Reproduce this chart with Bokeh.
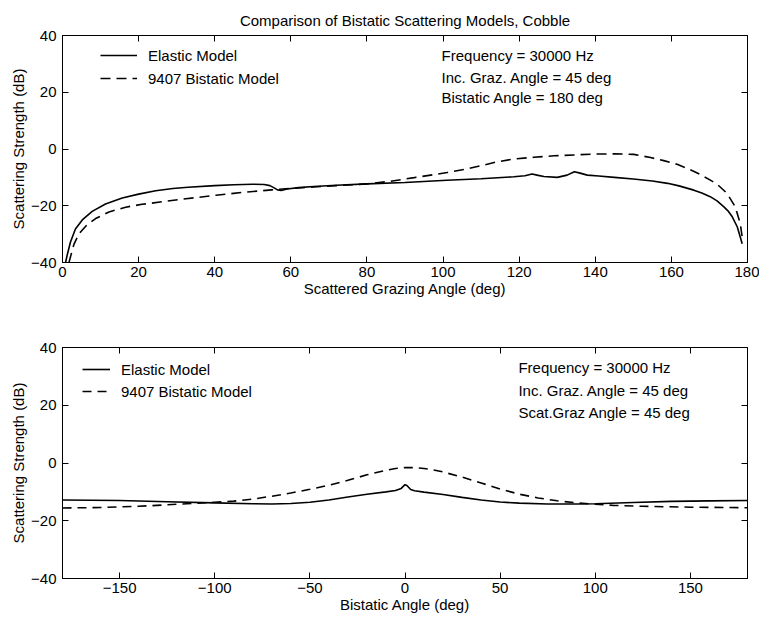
from bokeh.plotting import figure
from bokeh.models import LinearAxis, Range1d, Legend, LegendItem, Label, FixedTicker
from bokeh.layouts import column
from bokeh.embed import file_html
from bokeh.resources import INLINE

FONT = "Liberation Sans"

# ---------------- data ----------------
title_text = "Comparison of Bistatic Scattering Models, Cobble"
series_names = ["Elastic Model", "9407 Bistatic Model"]

y_ticks = [-40, -20, 0, 20, 40]
y_tick_labels = ["\u221240", "\u221220", "0", "20", "40"]
top_x_ticks = [0, 20, 40, 60, 80, 100, 120, 140, 160, 180]
bot_x_ticks = [-150, -100, -50, 0, 50, 100, 150]
bot_x_tick_labels = ["\u2212150", "\u2212100", "\u221250", "0", "50", "100", "150"]

top_elastic_x = [0.8, 1.3, 2.1, 3.4, 5.2, 7.8, 11.3, 15.7, 20, 24.5,
                 29, 33, 40, 45, 50, 53, 54.5, 55.5, 56.5, 57.5,
                 59, 62, 66, 72, 80, 90, 101, 110, 118.6, 121.5,
                 123.4, 125, 126.5, 130, 132.6, 134.5, 136, 137.9, 140.9, 145,
                 150, 155, 159, 162, 165.9, 168, 170.2, 172, 173.8, 175,
                 176, 177.3, 178.1, 178.6]
top_elastic_y = [-40, -37, -32.8, -28.2, -25.0, -22.0, -19.4, -17.3, -15.9, -14.7,
                 -13.9, -13.5, -12.9, -12.6, -12.4, -12.5, -12.9, -13.6, -14.4, -14.6,
                 -14.1, -13.6, -13.2, -12.8, -12.3, -11.8, -11.0, -10.5, -9.8, -9.4,
                 -8.8, -9.3, -9.7, -10.0, -9.2, -8.0, -8.5, -9.2, -9.5, -10.0,
                 -10.6, -11.3, -12.1, -13.0, -14.5, -15.5, -16.8, -18.3, -20.4, -22.0,
                 -23.9, -27.4, -31.0, -33.4]

top_bistatic_x = [1.7, 2.2, 3.0, 4.3, 6.1, 8.7, 12.2, 16.6, 20.9, 26.2,
                  31.5, 40.3, 48, 55, 60, 66, 72, 80, 86, 92.4,
                  101.1, 106, 109.9, 114.3, 118.6, 123.9, 129.2, 134.4, 139.6, 145,
                  150.1, 154.5, 158, 161.5, 164.5, 167.6, 170, 172, 174.6, 176.8,
                  178.1, 178.7]
top_bistatic_y = [-40, -37.5, -33.6, -29.9, -27.2, -24.5, -22.2, -20.5, -19.5, -18.6,
                  -17.7, -16.3, -15.2, -14.4, -13.9, -13.4, -12.9, -12.3, -11.4, -10.1,
                  -8.3, -7.1, -5.9, -4.5, -3.5, -2.9, -2.4, -2.1, -1.8, -1.7,
                  -1.9, -3.0, -4.1, -5.4, -7.0, -9.0, -10.8, -12.4, -15.6, -20.4,
                  -26.3, -32.0]

bot_elastic_x = [-180, -150, -125, -100, -80, -70, -60, -50, -40, -30,
                 -20, -10, -5, -2, 0, 1, 3, 5, 10, 20,
                 30, 40, 50, 60, 75, 90, 100, 120, 140, 160, 180]
bot_elastic_y = [-12.8, -13.0, -13.4, -13.8, -14.1, -14.2, -14.0, -13.6, -12.8, -11.8,
                 -10.8, -10.0, -9.5, -8.8, -7.5, -7.8, -9.2, -9.6, -10.1, -10.9,
                 -11.9, -12.8, -13.5, -13.9, -14.2, -14.2, -14.1, -13.7, -13.3, -13.1, -13.0]

bot_bistatic_x = [-180, -160, -140, -120, -100, -90, -80, -70, -60, -50,
                  -40, -30, -20, -10, -5, 0, 5, 10, 15, 20,
                  30, 40, 50, 60, 70, 80, 90, 100, 110, 125, 150, 180]
bot_bistatic_y = [-15.6, -15.4, -15.0, -14.3, -13.6, -13.2, -12.5, -11.5, -10.4, -9.1,
                  -7.7, -6.0, -4.1, -2.5, -1.9, -1.6, -1.6, -1.9, -2.4, -3.1,
                  -4.9, -6.9, -9.0, -10.8, -12.1, -13.1, -13.8, -14.3, -14.7, -15.0, -15.3, -15.5]

top_notes = ["Frequency = 30000 Hz", "Inc. Graz. Angle = 45 deg", "Bistatic Angle = 180 deg"]
bot_notes = ["Frequency = 30000 Hz", "Inc. Graz. Angle = 45 deg", "Scat.Graz Angle = 45 deg"]

y_label = "Scattering Strength (dB)"
top_x_label = "Scattered Grazing Angle (deg)"
bot_x_label = "Bistatic Angle (deg)"


def style_axis(ax, show_labels=True):
    ax.major_tick_in = 6
    ax.major_tick_out = 0
    ax.minor_tick_in = 0
    ax.minor_tick_out = 0
    ax.axis_line_color = "black"
    ax.axis_line_width = 1
    ax.major_tick_line_color = "black"
    ax.major_label_text_font = FONT
    ax.axis_label_text_font = FONT
    ax.axis_label_text_font_style = "normal"
    ax.axis_label_text_font_size = "15px"
    ax.axis_label_text_color = "black"
    if show_labels:
        ax.major_label_text_font_size = "15px"
        ax.major_label_text_color = "black"
    else:
        ax.major_label_text_font_size = "1px"
        ax.major_label_text_color = None
        ax.major_label_standoff = 0


def make_fig(height, xr, xticks, xlabels, btop, bbot, xlabel):
    p = figure(width=759, height=height, x_range=Range1d(*xr), y_range=Range1d(-40, 40),
               output_backend="svg", toolbar_location=None,
               min_border_left=62, min_border_right=12,
               min_border_top=btop, min_border_bottom=bbot,
               background_fill_color="white", border_fill_color="white")
    p.grid.visible = False
    p.outline_line_color = "black"
    p.xaxis.ticker = FixedTicker(ticks=xticks)
    p.yaxis.ticker = FixedTicker(ticks=y_ticks)
    if xlabels is not None:
        p.xaxis.major_label_overrides = {t: l for t, l in zip(xticks, xlabels)}
    p.yaxis.major_label_overrides = {t: l for t, l in zip(y_ticks, y_tick_labels)}
    p.xaxis.axis_label = xlabel
    p.yaxis.axis_label = y_label
    for ax in p.xaxis:
        style_axis(ax)
        ax.major_label_standoff = 4
        ax.axis_label_standoff = 0
    for ax in p.yaxis:
        style_axis(ax)
        ax.major_label_standoff = 6
        ax.axis_label_standoff = 1
    top_ax = LinearAxis(ticker=FixedTicker(ticks=xticks))
    right_ax = LinearAxis(ticker=FixedTicker(ticks=y_ticks))
    style_axis(top_ax, False)
    style_axis(right_ax, False)
    p.add_layout(top_ax, "above")
    p.add_layout(right_ax, "right")
    return p


# ---------------- top panel ----------------
p1 = make_fig(300, (0, 180), top_x_ticks, None, 35, 38, top_x_label)
p1.title.text = title_text
p1.title.align = "center"
p1.title.vertical_align = "top"
p1.title.text_font = FONT
p1.title.text_font_size = "15px"
p1.title.text_font_style = "normal"
p1.title.text_color = "black"

r1 = p1.line(top_elastic_x, top_elastic_y, line_color="black", line_width=1.6)
r2 = p1.line(top_bistatic_x, top_bistatic_y, line_color="black", line_width=1.6, line_dash="10 6")
leg1 = Legend(items=[LegendItem(label=series_names[0], renderers=[r1]),
                     LegendItem(label=series_names[1], renderers=[r2])],
              location=(38, 174), padding=0, margin=0, spacing=3,
              glyph_width=37, glyph_height=20, label_height=20, label_standoff=11,
              label_text_font=FONT, label_text_font_size="15px", label_text_color="black",
              border_line_color=None, background_fill_alpha=0)
p1.add_layout(leg1, "center")
for txt, yy in zip(top_notes, [33.0, 25.2, 18.2]):
    p1.add_layout(Label(x=99.6, y=yy, text=txt, text_font=FONT, text_font_size="15px",
                        text_baseline="middle", text_align="left", text_color="black"))

# ---------------- bottom panel ----------------
p2 = make_fig(323, (-180, 180), bot_x_ticks, bot_x_tick_labels, 47, 45, bot_x_label)
s1 = p2.line(bot_elastic_x, bot_elastic_y, line_color="black", line_width=1.6)
s2 = p2.line(bot_bistatic_x, bot_bistatic_y, line_color="black", line_width=1.6, line_dash="9 6")
leg2 = Legend(items=[LegendItem(label=series_names[0], renderers=[s1]),
                     LegendItem(label=series_names[1], renderers=[s2])],
              location=(20, 177), padding=0, margin=0, spacing=2,
              glyph_width=28, glyph_height=20, label_height=20, label_standoff=11,
              label_text_font=FONT, label_text_font_size="15px", label_text_color="black",
              border_line_color=None, background_fill_alpha=0)
p2.add_layout(leg2, "center")
for txt, yy in zip(bot_notes, [33.1, 25.1, 17.5]):
    p2.add_layout(Label(x=59.6, y=yy, text=txt, text_font=FONT, text_font_size="15px",
                        text_baseline="middle", text_align="left", text_color="black"))

layout = column(p1, p2, spacing=0)
open("out.html", "w").write(file_html(layout, INLINE))
